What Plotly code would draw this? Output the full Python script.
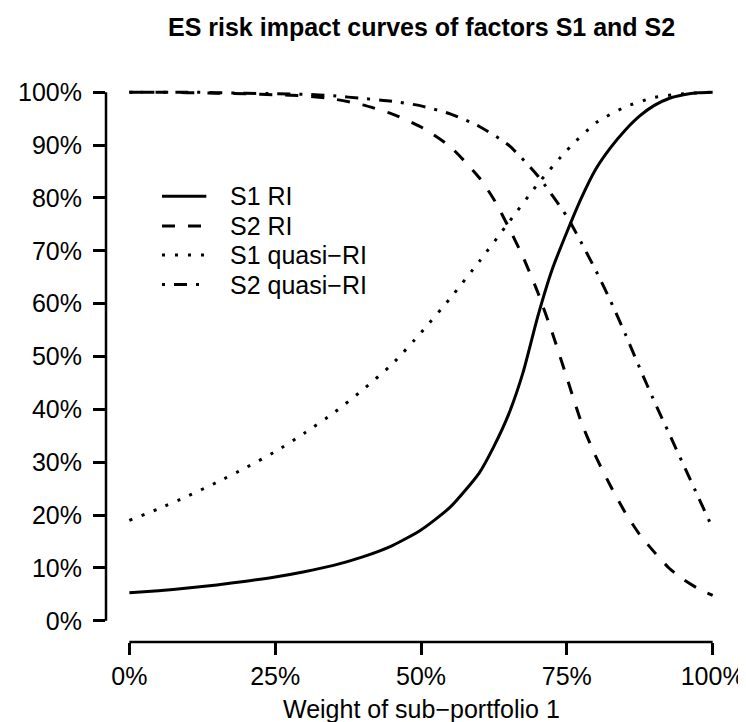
import plotly.graph_objects as go

# ---- data ----
s1_ri_x = [0, 0.05, 0.10, 0.15, 0.20, 0.25, 0.30, 0.35, 0.40, 0.45, 0.50, 0.55, 0.60, 0.625, 0.65, 0.675,
           0.70, 0.725, 0.75, 0.775, 0.80, 0.825, 0.85, 0.875, 0.90, 0.925, 0.95, 0.975, 1.0]
s1_ri_y = [0.053, 0.057, 0.062, 0.068, 0.075, 0.083, 0.093, 0.105, 0.121, 0.142, 0.172, 0.215, 0.28, 0.33, 0.39, 0.47,
           0.575, 0.665, 0.735, 0.80, 0.855, 0.895, 0.928, 0.955, 0.975, 0.988, 0.995, 0.999, 1.0]

s2_ri_x = [0, 0.05, 0.10, 0.15, 0.20, 0.25, 0.30, 0.35, 0.40, 0.45, 0.50, 0.55, 0.60, 0.625, 0.65, 0.675,
           0.70, 0.725, 0.75, 0.775, 0.80, 0.825, 0.85, 0.875, 0.90, 0.925, 0.95, 0.975, 1.0]
s2_ri_y = [1.0, 1.0, 0.999, 0.998, 0.997, 0.995, 0.993, 0.987, 0.976, 0.959, 0.934, 0.897, 0.838, 0.797, 0.745, 0.688,
           0.622, 0.545, 0.46, 0.375, 0.31, 0.255, 0.205, 0.163, 0.13, 0.10, 0.078, 0.061, 0.048]

s1_q_x = [0, 0.05, 0.10, 0.15, 0.20, 0.25, 0.30, 0.35, 0.40, 0.45, 0.50, 0.55, 0.60, 0.65, 0.70, 0.75,
          0.80, 0.85, 0.90, 0.95, 1.0]
s1_q_y = [0.19, 0.212, 0.236, 0.262, 0.29, 0.32, 0.355, 0.393, 0.437, 0.485, 0.545, 0.61, 0.68, 0.753, 0.826, 0.89,
          0.942, 0.972, 0.99, 0.997, 1.0]

s2_q_x = [0, 0.05, 0.10, 0.15, 0.20, 0.25, 0.30, 0.35, 0.40, 0.45, 0.50, 0.55, 0.60, 0.65, 0.70, 0.75,
          0.775, 0.80, 0.825, 0.85, 0.875, 0.90, 0.925, 0.95, 0.975, 1.0]
s2_q_y = [1.0, 1.0, 1.0, 0.999, 0.998, 0.997, 0.996, 0.993, 0.988, 0.983, 0.974, 0.959, 0.935, 0.90, 0.842, 0.765,
          0.715, 0.662, 0.605, 0.543, 0.478, 0.415, 0.355, 0.295, 0.235, 0.175]

series_names = ["S1 RI", "S2 RI", "S1 quasi\u2212RI", "S2 quasi\u2212RI"]
y_ticks = [0, 0.1, 0.2, 0.3, 0.4, 0.5, 0.6, 0.7, 0.8, 0.9, 1.0]
y_tick_labels = ["0%", "10%", "20%", "30%", "40%", "50%", "60%", "70%", "80%", "90%", "100%"]
x_ticks = [0, 0.25, 0.5, 0.75, 1.0]
x_tick_labels = ["0%", "25%", "50%", "75%", "100%"]

title_text = "ES risk impact curves of factors S1 and S2"
x_title = "Weight of sub\u2212portfolio 1"

# ---- styles ----
FONT = "Liberation Sans, Arial, Helvetica, sans-serif"
LW = 3
dashes = ["solid", "13px,13px", "3px,10px", "3px,9px,13px,9px"]

fig = go.Figure()
data = [(s1_ri_x, s1_ri_y), (s2_ri_x, s2_ri_y), (s1_q_x, s1_q_y), (s2_q_x, s2_q_y)]
for (xs, ys), name, dash in zip(data, series_names, dashes):
    fig.add_trace(go.Scatter(x=xs, y=ys, mode="lines", name=name, showlegend=False,
                             line=dict(color="black", width=LW, dash=dash, shape="spline", smoothing=0.6)))

# manual legend (R-style)
leg_y = [0.803, 0.747, 0.692, 0.636]
for name, dash, ly in zip(series_names, dashes, leg_y):
    fig.add_shape(type="line", xref="x", yref="y", x0=0.056, x1=0.132, y0=ly, y1=ly,
                  line=dict(color="black", width=LW, dash=dash))
    fig.add_annotation(xref="x", yref="y", x=0.169, y=ly, text=name, showarrow=False,
                       xanchor="left", yanchor="middle", font=dict(family=FONT, size=25, color="black"))

# R-style axis lines spanning first to last tick
fig.add_shape(type="line", xref="paper", yref="y", x0=0, x1=0, y0=0, y1=1,
              line=dict(color="black", width=2.5))
fig.add_shape(type="line", xref="x", yref="paper", x0=0, x1=1, y0=0, y1=0,
              line=dict(color="black", width=2.5))

fig.add_annotation(xref="paper", yref="paper", x=0.5, y=1.077, text="<b>" + title_text + "</b>",
                   showarrow=False, xanchor="center", yanchor="middle",
                   font=dict(family=FONT, size=25, color="black"))
fig.add_annotation(xref="paper", yref="paper", x=0.5, y=-0.117, text=x_title,
                   showarrow=False, xanchor="center", yanchor="middle",
                   font=dict(family=FONT, size=25, color="black"))

fig.update_xaxes(range=[-0.04, 1.04], tickvals=x_ticks, ticktext=x_tick_labels, ticks="outside",
                 ticklen=12, tickwidth=2.5, tickcolor="black", showgrid=False, zeroline=False,
                 showline=False, tickfont=dict(family=FONT, size=25, color="black"))
fig.update_yaxes(range=[-0.04, 1.04], tickvals=y_ticks, ticktext=y_tick_labels, ticks="outside",
                 ticklen=12, tickwidth=2.5, tickcolor="black", showgrid=False, zeroline=False,
                 showline=False, ticklabelstandoff=6,
                 tickfont=dict(family=FONT, size=25, color="black"))

fig.update_layout(width=746, height=722, margin=dict(l=98, r=10, t=63, b=88),
                  plot_bgcolor="white", paper_bgcolor="white", showlegend=False)

fig.write_html("out.html")
